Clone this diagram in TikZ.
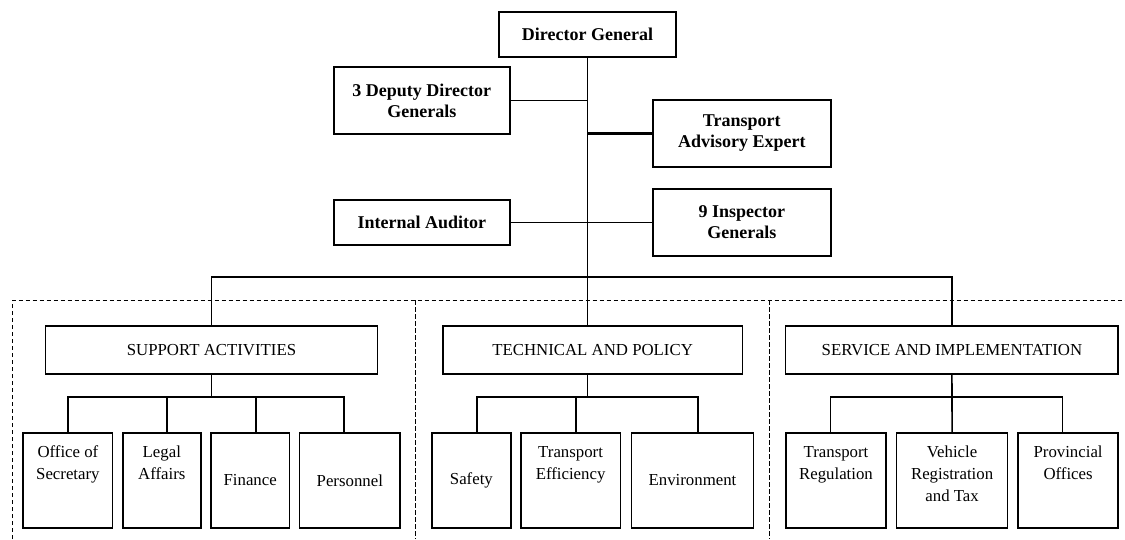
\documentclass[tikz,border=0pt]{standalone}
\usepackage{fontspec}
\setmainfont{Liberation Serif}
\begin{document}
\begin{tikzpicture}[x=1pt,y=-1pt,
  every node/.style={inner sep=0pt, outer sep=0pt},
  topbox/.style={draw, line width=1.6pt, align=center, font=\fontsize{18}{21}\selectfont\bfseries},
  secbox/.style={draw, line width=1.6pt, align=center, minimum height=48pt, font=\fontsize{16.8}{22}\selectfont},
  cbox/.style={draw, line width=1.6pt, align=center, minimum height=95pt, font=\fontsize{16.8}{22}\selectfont},
  ctext/.style={align=center, anchor=north, font=\fontsize{16.8}{22}\selectfont},
  conn/.style={line width=1.6pt},
  sep/.style={line width=0.9pt, dash pattern=on 4.5pt off 2.5pt}
]
\useasboundingbox (0,0) rectangle (1125,539);

% top level
\node[topbox, minimum width=177pt, minimum height=45pt] (dg) at (587.5,34.5) {Director General};
\node[topbox, minimum width=176pt, minimum height=67pt] (dep) at (421.8,100.5) {3 Deputy Director\\Generals};
\node[topbox, minimum width=178pt, minimum height=67pt] (tae) at (741.8,133.5) {Transport\\Advisory Expert};
\node[topbox, minimum width=176pt, minimum height=45pt] (ia) at (421.8,222.5) {Internal Auditor};
\node[topbox, minimum width=178pt, minimum height=67pt] (ig) at (741.8,222.5) {9 Inspector\\Generals};
\coordinate (bar) at (587.5,277);

\draw[conn] (dg.south) -- (bar);
\draw[conn] (dep.east) -- (dep.east -| bar);
\draw[line width=2.6pt] (tae.west) -- (tae.west -| bar);
\draw[conn] (ia.east) -- (ig.west);

% dashed separators
\coordinate (dl) at (12.5,300);
\coordinate (dr) at (1125,300);
\coordinate (d1) at (12.5,539);
\coordinate (d2t) at (415.4,300);
\coordinate (d2) at (415.4,539);
\coordinate (d3t) at (769.7,300);
\coordinate (d3) at (769.7,539);
\draw[sep] (d1) -- (dl) -- (dr);
\draw[sep] (d2t) -- (d2);
\draw[sep] (d3t) -- (d3);

% sections
\node[secbox, minimum width=332pt] (sup) at (211.5,350) {SUPPORT ACTIVITIES};
\node[secbox, minimum width=299.4pt] (tec) at (592.6,350) {TECHNICAL AND POLICY};
\node[secbox, minimum width=332.6pt] (ser) at (951.9,350) {SERVICE AND IMPLEMENTATION};

\draw[conn] (sup.north) |- (bar);
\draw[conn] (bar) -| (ser.north);
\draw[conn] (bar) -- (bar |- tec.north);

% support children
\node[cbox, minimum width=89.3pt] (off) at (67.9,480.5) {};
\node[ctext] (offT) at ([yshift=-13pt]off.north) {Office of\\Secretary};
\node[cbox, minimum width=77.8pt] (leg) at (161.8,480.5) {};
\node[ctext] (legT) at ([yshift=-13pt]leg.north) {Legal\\Affairs};
\node[cbox, minimum width=78.3pt] (fin) at (250.2,480.5) {Finance};
\node[cbox, minimum width=100.4pt] (per) at (349.8,480.5) {Personnel};
\coordinate (supB) at (211.5,397);
\draw[conn] (sup.south) -- (supB);
\draw[conn] (off.north) |- (supB);
\draw[conn] ([xshift=5.2pt]leg.north) |- (supB);
\draw[conn] ([xshift=5.5pt]fin.north) |- (supB);
\draw[conn] ([xshift=-5.8pt]per.north) |- (supB);

% technical children
\node[cbox, minimum width=78.7pt] (saf) at (471.4,480.5) {Safety};
\node[cbox, minimum width=99.8pt] (tef) at (570.6,480.5) {};
\node[ctext] (tefT) at ([yshift=-13pt]tef.north) {Transport\\Efficiency};
\node[cbox, minimum width=122.1pt] (env) at (692.5,480.5) {Environment};
\coordinate (tecB) at (587.5,397);
\draw[conn] (tecB |- tec.south) -- (tecB);
\draw[conn] ([xshift=5.4pt]saf.north) |- (tecB);
\draw[conn] ([xshift=5.3pt]tef.north) |- (tecB);
\draw[conn] ([xshift=5.2pt]env.north) |- (tecB);

% service children
\node[cbox, minimum width=100pt] (trg) at (836,480.5) {};
\node[ctext] (trgT) at ([yshift=-13pt]trg.north) {Transport\\Regulation};
\node[cbox, minimum width=111pt] (veh) at (952.1,480.5) {};
\node[ctext] (vehT) at ([yshift=-13pt]veh.north) {Vehicle\\Registration\\and Tax};
\node[cbox, minimum width=100.2pt] (pro) at (1068.1,480.5) {};
\node[ctext] (proT) at ([yshift=-13pt]pro.north) {Provincial\\Offices};
\coordinate (serB) at (952,397);
\draw[conn] (ser.south) -- (serB);
\draw[conn] ([xshift=-5.4pt]trg.north) |- (serB);
\draw[conn] (veh.north) -- (serB);
\draw[conn] ([xshift=-5.8pt]pro.north) |- (serB);
\end{tikzpicture}
\end{document}
